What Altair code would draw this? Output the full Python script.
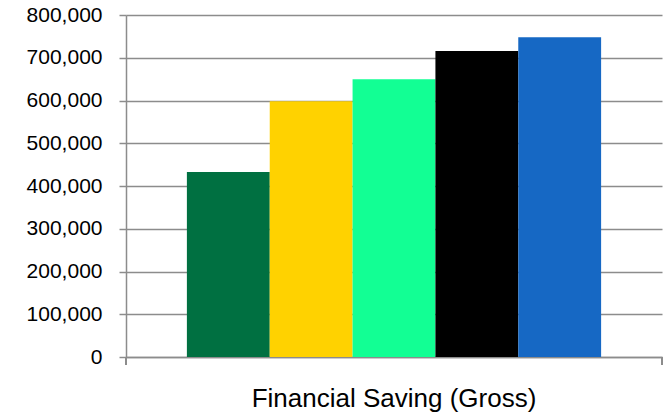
import altair as alt
import pandas as pd

categories = ["Financial Saving (Gross)"]
series = ["Series 1", "Series 2", "Series 3", "Series 4", "Series 5"]
values = [433000, 598000, 650000, 716000, 748000]
colors = ["#007041", "#FFD200", "#12FF94", "#000000", "#1668C4"]
y_ticks = [0, 100000, 200000, 300000, 400000, 500000, 600000, 700000, 800000]

df = pd.DataFrame({
    "category": categories * len(series),
    "series": series,
    "value": values,
})

W, H = 536, 342
GRAY = "#8C8C8C"
FONT = "Liberation Sans"

bars = alt.Chart(df).mark_bar().encode(
    x=alt.X(
        "category:N",
        scale=alt.Scale(paddingInner=0, paddingOuter=0.147),
        axis=alt.Axis(
            title=None, labelAngle=0, ticks=False, domain=True,
            domainColor=GRAY, domainWidth=1.5,
            labelFontSize=26, labelFont=FONT, labelColor="#000000",
            labelPadding=28, labelLimit=1000,
        ),
    ),
    xOffset=alt.XOffset(
        "series:N", sort=series, scale=alt.Scale(paddingInner=0, paddingOuter=0)
    ),
    y=alt.Y(
        "value:Q",
        scale=alt.Scale(domain=[0, 800000], nice=False),
        axis=alt.Axis(
            values=y_ticks, format=",.0f", title=None,
            grid=True, gridColor=GRAY, gridWidth=1.5,
            domain=True, domainColor=GRAY, domainWidth=1.5,
            ticks=True, tickColor=GRAY, tickWidth=1.5, tickSize=7,
            labelFontSize=21, labelFont=FONT, labelColor="#000000",
            labelPadding=17,
        ),
    ),
    color=alt.Color(
        "series:N", scale=alt.Scale(domain=series, range=colors), legend=None
    ),
)

tick_left = alt.Chart(df).mark_rule(color=GRAY, strokeWidth=1.5).encode(
    x=alt.value(0), y=alt.value(H), y2=alt.value(H + 8)
)
tick_right = alt.Chart(df).mark_rule(color=GRAY, strokeWidth=1.5).encode(
    x=alt.value(W), y=alt.value(H), y2=alt.value(H + 8)
)

chart = (
    alt.layer(bars, tick_left, tick_right)
    .properties(
        width=W, height=H,
        autosize="none",
        padding={"left": 126, "top": 15, "right": 2, "bottom": 57},
        background="#ffffff",
    )
    .configure_view(stroke=None)
)

chart.save("out.html", embed_options={"renderer": "svg", "actions": False})
